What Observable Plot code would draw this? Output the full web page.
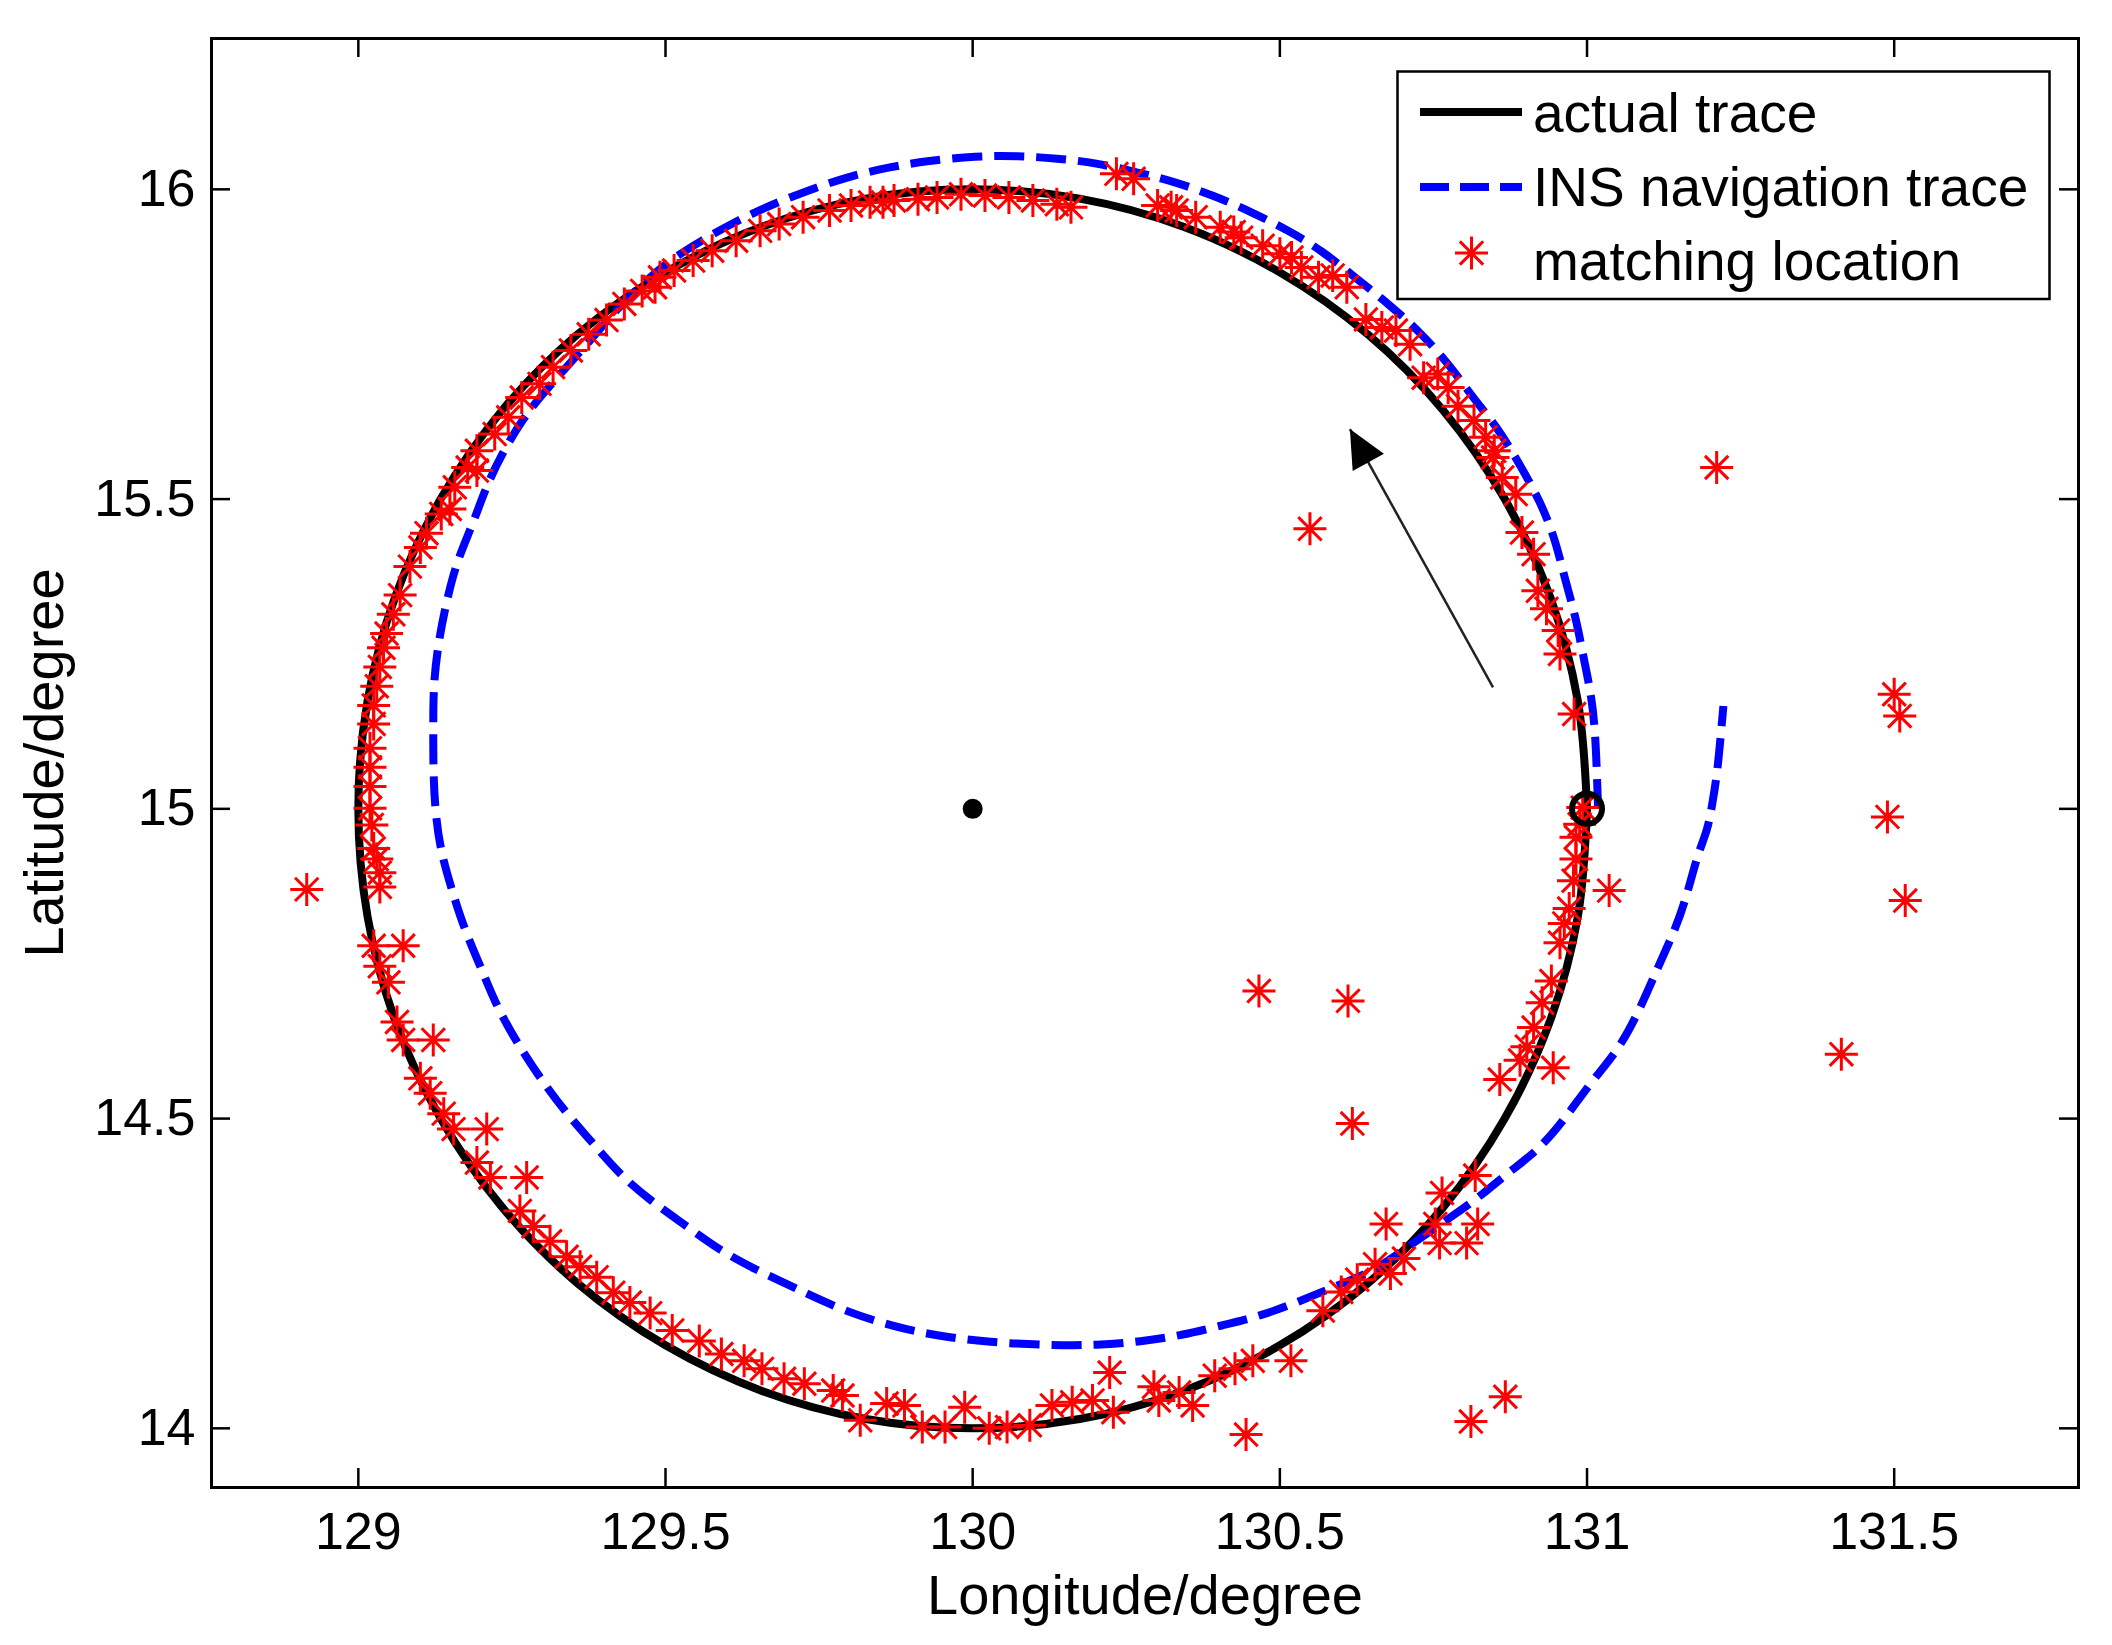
<!DOCTYPE html>
<html><head><meta charset="utf-8">
<script src="https://cdn.jsdelivr.net/npm/d3@7"></script>
<script src="https://cdn.jsdelivr.net/npm/@observablehq/plot@0.6"></script>
<style>html,body{margin:0;padding:0;background:#fff;} #chart{width:2112px;height:1645px;}</style>
</head><body><div id="chart"></div>
<script>
// ---------- data ----------
const xTicks = [129, 129.5, 130, 130.5, 131, 131.5];
const yTicks = [14, 14.5, 15, 15.5, 16];
const xDomain = [128.761, 131.80];
const yDomain = [13.9045, 16.2435];
const xTitle = "Longitude/degree";
const yTitle = "Latitude/degree";
const legendLabels = ["actual trace", "INS navigation trace", "matching location"];

// actual trace (black solid), read around the loop from the start point
const traceLon = [131.000,130.985,130.940,130.866,130.766,130.643,130.500,130.342,130.174,130.000,129.826,129.658,129.500,129.357,129.234,129.134,129.060,129.015,129.000,129.015,129.060,129.134,129.234,129.357,129.500,129.658,129.826,130.000,130.174,130.342,130.500,130.643,130.766,130.866,130.940,130.985,131.000];
const traceLat = [15.000,15.174,15.342,15.500,15.643,15.766,15.866,15.940,15.985,16.000,15.985,15.940,15.866,15.766,15.643,15.500,15.342,15.174,15.000,14.826,14.658,14.500,14.357,14.234,14.134,14.060,14.015,14.000,14.015,14.060,14.134,14.234,14.357,14.500,14.658,14.826,15.000];

// INS navigation trace (blue dashed)
const insLon = [131.018,131.014,131.007,130.993,130.982,130.963,130.949,130.924,130.884,130.854,130.814,130.775,130.729,130.677,130.626,130.569,130.515,130.455,130.392,130.330,130.270,130.200,130.137,130.075,130.005,129.927,129.864,129.795,129.731,129.667,129.610,129.558,129.506,129.462,129.418,129.382,129.334,129.295,129.266,129.236,129.209,129.187,129.160,129.144,129.130,129.122,129.122,129.122,129.125,129.133,129.150,129.173,129.198,129.225,129.258,129.296,129.339,129.377,129.426,129.475,129.535,129.587,129.649,129.708,129.788,129.875,129.940,130.020,130.129,130.202,130.274,130.340,130.405,130.471,130.532,130.597,130.658,130.716,130.782,130.833,130.869,130.920,130.963,131.007,131.051,131.087,131.116,131.145,131.164,131.180,131.196,131.203,131.211,131.216,131.222];
const insLat = [15.000,15.121,15.185,15.250,15.309,15.374,15.433,15.497,15.567,15.616,15.664,15.718,15.769,15.815,15.855,15.901,15.933,15.963,15.990,16.012,16.027,16.043,16.050,16.054,16.054,16.046,16.036,16.020,15.998,15.973,15.946,15.917,15.885,15.847,15.804,15.761,15.708,15.664,15.627,15.577,15.523,15.461,15.399,15.337,15.268,15.198,15.129,15.060,14.998,14.936,14.876,14.804,14.748,14.681,14.623,14.565,14.508,14.466,14.409,14.368,14.326,14.288,14.255,14.228,14.190,14.163,14.150,14.139,14.134,14.134,14.140,14.150,14.166,14.182,14.205,14.232,14.256,14.299,14.343,14.380,14.411,14.448,14.498,14.560,14.610,14.678,14.746,14.808,14.865,14.927,14.965,15.002,15.051,15.100,15.166];

// matching locations (red asterisks)
const matchLon = [
 130.993,130.979,130.956,130.953,130.934,130.920,130.913,130.894,130.884,130.862,
 130.847,130.849,130.835,130.816,130.790,130.774,130.757,130.734,130.712,130.689,
 130.666,130.640,130.609,130.586,130.563,130.535,130.519,130.500,130.472,130.437,
 130.425,130.403,130.363,130.332,130.323,130.301,
 130.160,130.137,130.098,130.059,130.020,129.981,129.942,129.911,129.872,129.854,
 129.833,129.802,129.767,129.724,129.685,129.654,129.615,129.576,129.545,129.514,
 129.491,129.483,
 129.462,129.433,129.404,129.375,129.346,129.317,129.295,129.266,129.244,129.222,
 129.193,129.193,129.178,129.157,129.149,129.135,
 129.111,129.101,129.084,129.068,129.057,129.046,129.041,129.035,129.030,129.025,
 129.025,129.019,129.019,129.019,129.019,129.022,129.025,129.030,129.035,129.035,
 129.025,129.035,129.049,129.063,129.073,129.101,129.117,129.139,129.155,129.193,
 129.215,129.263,129.285,129.312,129.339,129.361,129.388,129.415,129.442,129.475,
 129.511,129.555,129.591,129.628,129.657,129.693,129.726,129.773,129.788,129.817,
 129.860,129.889,129.918,129.955,129.987,130.027,130.056,130.093,130.129,130.162,
 130.195,130.229,130.295,130.303,130.336,130.358,130.394,130.427,130.456,
 130.570,130.600,130.626,130.655,130.680,130.702,130.753,130.760,130.804,130.822,
 130.764,130.818,
 130.891,130.902,130.913,130.927,130.942,130.956,130.963,130.971,130.978,130.982,
 130.982,130.988,
 128.916,130.549,131.211,131.500,131.509,131.489,131.518,131.414,131.036,130.466,
 130.611,130.618,130.945,130.858,130.673,130.445,130.811,130.867,130.518,130.223,
 129.073,129.122,129.209,129.274,130.234,130.262
];
const matchLat = [
 15.002,15.153,15.250,15.288,15.323,15.352,15.411,15.446,15.508,15.535,
 15.567,15.578,15.600,15.627,15.650,15.680,15.702,15.696,15.750,15.772,
 15.777,15.790,15.842,15.861,15.858,15.874,15.890,15.896,15.909,15.922,
 15.931,15.939,15.955,15.966,15.971,15.974,
 15.971,15.976,15.982,15.987,15.990,15.992,15.987,15.984,15.982,15.979,
 15.979,15.974,15.966,15.955,15.944,15.933,15.917,15.901,15.885,15.869,
 15.858,15.842,
 15.836,15.815,15.789,15.766,15.740,15.713,15.686,15.664,15.632,15.605,
 15.578,15.546,15.551,15.519,15.484,15.476,
 15.445,15.422,15.391,15.345,15.314,15.283,15.260,15.229,15.198,15.167,
 15.137,15.098,15.067,15.036,15.001,14.974,14.936,14.919,14.897,14.874,
 14.779,14.746,14.720,14.656,14.627,14.565,14.541,14.508,14.483,14.429,
 14.405,14.351,14.326,14.302,14.277,14.261,14.244,14.219,14.203,14.186,
 14.158,14.141,14.120,14.109,14.096,14.080,14.072,14.061,14.053,14.013,
 14.040,14.037,14.002,14.002,14.034,14.000,14.002,14.005,14.037,14.042,
 14.045,14.026,14.067,14.045,14.058,14.037,14.085,14.096,14.109,
 14.190,14.220,14.240,14.265,14.250,14.274,14.330,14.299,14.299,14.330,
 14.380,14.408,
 14.594,14.616,14.647,14.687,14.722,14.784,14.815,14.839,14.884,14.919,
 14.954,14.975,
 14.870,15.452,15.551,15.185,15.150,14.987,14.852,14.604,14.868,14.706,
 14.690,14.492,14.582,14.563,14.330,13.990,14.011,14.051,14.109,14.090,
 14.779,14.627,14.483,14.405,16.025,16.017
];

const centerLon = [130.0], centerLat = [15.0];
const startLon = [131.0], startLat = [15.0];
const arrowLon = [130.847, 130.614], arrowLat = [15.196, 15.613]; // tail, tip

// ---------- layout ----------
const W = 2112, H = 1645, mL = 211, mR = 34, mT = 38, mB = 158;
const plotW = W - mL - mR, plotH = H - mT - mB;
const tickLen = 19;
const FONT = "'Liberation Sans', Arial, sans-serif";

const trace = traceLon.map((lon, i) => ({lon, lat: traceLat[i]}));
const ins = insLon.map((lon, i) => ({lon, lat: insLat[i]}));
const matches = matchLon.map((lon, i) => ({lon, lat: matchLat[i]}));

const starSymbol = {draw(ctx, size) {
  const r = Math.sqrt(size / Math.PI), d = r * Math.SQRT1_2;
  ctx.moveTo(-r, 0); ctx.lineTo(r, 0);
  ctx.moveTo(0, -r); ctx.lineTo(0, r);
  ctx.moveTo(-d, -d); ctx.lineTo(d, d);
  ctx.moveTo(-d, d); ctx.lineTo(d, -d);
}};
const headSymbol = {draw(ctx, size) {
  const r = Math.sqrt(size / Math.PI);
  ctx.moveTo(0, 0); ctx.lineTo(-r * 0.47, r); ctx.lineTo(r * 0.47, r); ctx.closePath();
}};

const kx = plotW / (xDomain[1] - xDomain[0]);
const ky = plotH / (yDomain[1] - yDomain[0]);
const pdx = (arrowLon[1] - arrowLon[0]) * kx;
const pdy = -(arrowLat[1] - arrowLat[0]) * ky;
const headAngle = Math.atan2(pdx, -pdy) * 180 / Math.PI;

const chart = Plot.plot({
  width: W, height: H,
  marginLeft: mL, marginRight: mR, marginTop: mT, marginBottom: mB,
  x: {domain: xDomain},
  y: {domain: yDomain},
  style: {fontFamily: FONT, background: "white", color: "black"},
  marks: [
    Plot.line(trace, {x: "lon", y: "lat", stroke: "black", strokeWidth: 8, curve: "catmull-rom"}),
    Plot.line(ins, {x: "lon", y: "lat", stroke: "#0000ff", strokeWidth: 8, strokeDasharray: "30,12", strokeLinecap: "butt", curve: "basis"}),
    Plot.dot(matches, {x: "lon", y: "lat", symbol: starSymbol, r: 16.5, stroke: "#ff0000", strokeWidth: 3, fill: "none"}),
    Plot.dot(centerLon.map((lon, i) => ({lon, lat: centerLat[i]})), {x: "lon", y: "lat", r: 10, fill: "black", stroke: "none"}),
    Plot.dot(startLon.map((lon, i) => ({lon, lat: startLat[i]})), {x: "lon", y: "lat", r: 15, fill: "none", stroke: "black", strokeWidth: 6}),
    Plot.link([0], {x1: () => arrowLon[0], y1: () => arrowLat[0], x2: () => arrowLon[1], y2: () => arrowLat[1], stroke: "#222", strokeWidth: 2.5}),
    Plot.dot([0], {x: () => arrowLon[1], y: () => arrowLat[1], symbol: headSymbol, r: 38, fill: "black", stroke: "none", rotate: headAngle}),
    Plot.ruleX(xTicks, {x: d => d, insetTop: plotH - tickLen, stroke: "black", strokeWidth: 2.5}),
    Plot.ruleX(xTicks, {x: d => d, insetBottom: plotH - tickLen, stroke: "black", strokeWidth: 2.5}),
    Plot.ruleY(yTicks, {y: d => d, insetRight: plotW - tickLen, stroke: "black", strokeWidth: 2.5}),
    Plot.ruleY(yTicks, {y: d => d, insetLeft: plotW - tickLen, stroke: "black", strokeWidth: 2.5}),
    Plot.frame({stroke: "black", strokeWidth: 3}),
    Plot.axisX(xTicks, {anchor: "bottom", tickSize: 0, tickPadding: 25, fontSize: 52, tickFormat: d => String(d), label: null}),
    Plot.axisY(yTicks, {anchor: "left", tickSize: 0, tickPadding: 16, fontSize: 52, tickFormat: d => String(d), label: null}),
    Plot.text([xTitle], {text: d => d, frameAnchor: "bottom", dy: 126, textAnchor: "middle", lineAnchor: "bottom", fontSize: 56}),
    Plot.text([yTitle], {text: d => d, frameAnchor: "left", dx: -149, rotate: -90, textAnchor: "middle", lineAnchor: "bottom", fontSize: 56})
  ]
});
document.getElementById("chart").appendChild(chart);

// ---------- legend (inside the axes, top right) ----------
const svg = d3.select(chart);
const lg = svg.append("g").attr("font-family", FONT).attr("font-size", 55).attr("text-anchor", "start");
lg.append("rect").attr("x", 1397.5).attr("y", 71.5).attr("width", 652).attr("height", 227.5)
  .attr("fill", "white").attr("stroke", "black").attr("stroke-width", 2.5);
const rowY = [112, 187, 253];
const baseY = [131.5, 206, 280];
lg.append("line").attr("x1", 1420).attr("x2", 1522).attr("y1", rowY[0]).attr("y2", rowY[0])
  .attr("stroke", "black").attr("stroke-width", 8);
lg.append("line").attr("x1", 1420).attr("x2", 1522).attr("y1", rowY[1]).attr("y2", rowY[1])
  .attr("stroke", "#0000ff").attr("stroke-width", 8).attr("stroke-dasharray", "29,11");
const sp = d3.path(); starSymbol.draw(sp, 16.5 * 16.5 * Math.PI);
lg.append("path").attr("d", sp.toString()).attr("transform", `translate(1471.5,${rowY[2]})`)
  .attr("fill", "none").attr("stroke", "#ff0000").attr("stroke-width", 3);
legendLabels.forEach((t, i) => {
  lg.append("text").attr("x", 1533).attr("y", baseY[i]).attr("fill", "black").attr("text-anchor", "start").text(t);
});
</script>
</body></html>
